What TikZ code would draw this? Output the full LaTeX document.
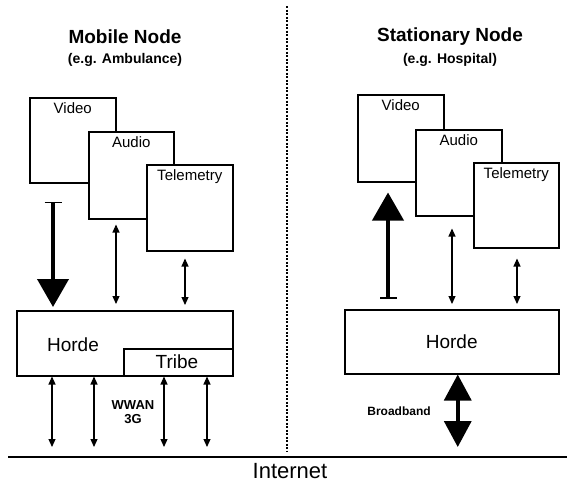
\documentclass[tikz,border=0pt]{standalone}
\usepackage{fontspec}
\setmainfont{Liberation Sans}
\usetikzlibrary{arrows.meta}
\tikzset{
  box/.style={draw, line width=1.5pt, fill=white, anchor=north west, inner sep=0pt},
  lbl/.style={font=\fontsize{15}{17}\selectfont, inner sep=0pt, anchor=center},
  big/.style={font=\fontsize{19}{21}\selectfont, inner sep=0pt},
  title/.style={font=\bfseries\fontsize{19}{21}\selectfont, inner sep=0pt},
  subtitle/.style={font=\bfseries\fontsize{14}{16}\selectfont, inner sep=0pt},
  small/.style={font=\bfseries\fontsize{13}{14}\selectfont, inner sep=0pt, align=center},
  thinarr/.style={line width=1.1pt, {Triangle[width=7pt,length=8pt]}-{Triangle[width=7pt,length=8pt]}},
  thickdown/.style={line width=4pt, {Bar[width=17pt,line width=1.8pt]}-{Triangle[width=31pt,length=28pt]}},
  thickup/.style={line width=4pt, {Bar[width=17pt,line width=1.8pt]}-{Triangle[width=31pt,length=28pt]}},
  bbarr/.style={line width=3.5pt, {Triangle[width=27pt,length=26pt]}-{Triangle[width=27pt,length=26pt]}},
}
\begin{document}
\begin{tikzpicture}[x=1pt,y=-1pt]
\useasboundingbox (0,0) rectangle (567,483);
% divider
\coordinate (dt) at (287,6);
\coordinate (db) at (287,452);
\draw[line width=1.5pt, dash pattern=on 2pt off 1.5pt] (dt) -- (db);
% internet line
\coordinate (inetL) at (8,457);
\coordinate (inetR) at (567,457);
\draw[line width=2pt] (inetL) -- (inetR);
\node[big, font=\fontsize{22}{24}\selectfont] (inet) at (290,471) {Internet};

% ---------- Mobile node ----------
\node[title] (mt) at (125,37) {Mobile Node};
\node[subtitle] (ms) at (125,60) {(e.g. Ambulance)};
\node[box, minimum width=86pt, minimum height=85pt] (lv) at (29,97) {};
\node[lbl] at ([yshift=-11pt]lv.north) {Video};
\node[box, minimum width=85pt, minimum height=87pt] (la) at (88,131) {};
\node[lbl] at ([yshift=-11pt]la.north) {Audio};
\node[box, minimum width=86pt, minimum height=86pt] (lt) at (146,164) {};
\node[lbl] at ([yshift=-13pt]lt.north) {Telemetry};
\node[box, minimum width=216pt, minimum height=65pt] (lh) at (16,310) {};
\node[big] (lhl) at (73,345) {Horde};
\node[box, minimum width=109pt, minimum height=27pt] (ltr) at (123,348) {};
\node[big] (ltrl) at (177,362) {Tribe};

\draw[thickdown] ([xshift=24pt,yshift=-18pt]lv.south west) -- ([xshift=37pt,yshift=3pt]lh.north west);
\draw[thinarr] ([xshift=28pt,yshift=-5pt]la.south west) -- ([xshift=100pt,yshift=6pt]lh.north west);
\draw[thinarr] ([xshift=39pt,yshift=-7pt]lt.south west) -- ([xshift=169pt,yshift=5pt]lh.north west);

\coordinate (b1) at ([xshift=36pt]lh.south west);
\coordinate (b2) at ([xshift=78pt]lh.south west);
\coordinate (b3) at ([xshift=148pt]lh.south west);
\coordinate (b4) at ([xshift=191pt]lh.south west);
\foreach \b in {b1,b2,b3,b4}
  \draw[thinarr, shorten >=10pt] (\b) -- (\b |- inetL);
\node[small] (wwan) at (133,412) {WWAN\\3G};

% ---------- Stationary node ----------
\node[title] (st) at (450,37) {Stationary Node};
\node[subtitle] (ss) at (450,60) {(e.g. Hospital)};
\node[box, minimum width=86pt, minimum height=87pt] (rv) at (357,94) {};
\node[lbl] at ([yshift=-11pt]rv.north) {Video};
\node[box, minimum width=86pt, minimum height=86pt] (ra) at (415,129) {};
\node[lbl] at ([yshift=-11pt]ra.north) {Audio};
\node[box, minimum width=85pt, minimum height=85pt] (rt) at (473,162) {};
\node[lbl] at ([yshift=-13pt]rt.north) {Telemetry};
\node[box, minimum width=214pt, minimum height=64pt] (rh) at (344,309) {};
\node[big] (rhl) at (rh.center) {Horde};

\draw[thickup] ([xshift=44pt,yshift=10pt]rh.north west) -- ([xshift=31pt,yshift=-10pt]rv.south west);
\draw[thinarr] ([xshift=37pt,yshift=-12pt]ra.south west) -- ([xshift=108pt,yshift=5pt]rh.north west);
\draw[thinarr] ([xshift=44pt,yshift=-10pt]rt.south west) -- ([xshift=173pt,yshift=5pt]rh.north west);

\coordinate (bb) at ([xshift=6pt]rh.south);
\draw[bbarr, shorten >=10pt] (bb) -- (bb |- inetL);
\node[small, font=\bfseries\fontsize{12}{14}\selectfont] (bbl) at (399,411) {Broadband};
\end{tikzpicture}
\end{document}
